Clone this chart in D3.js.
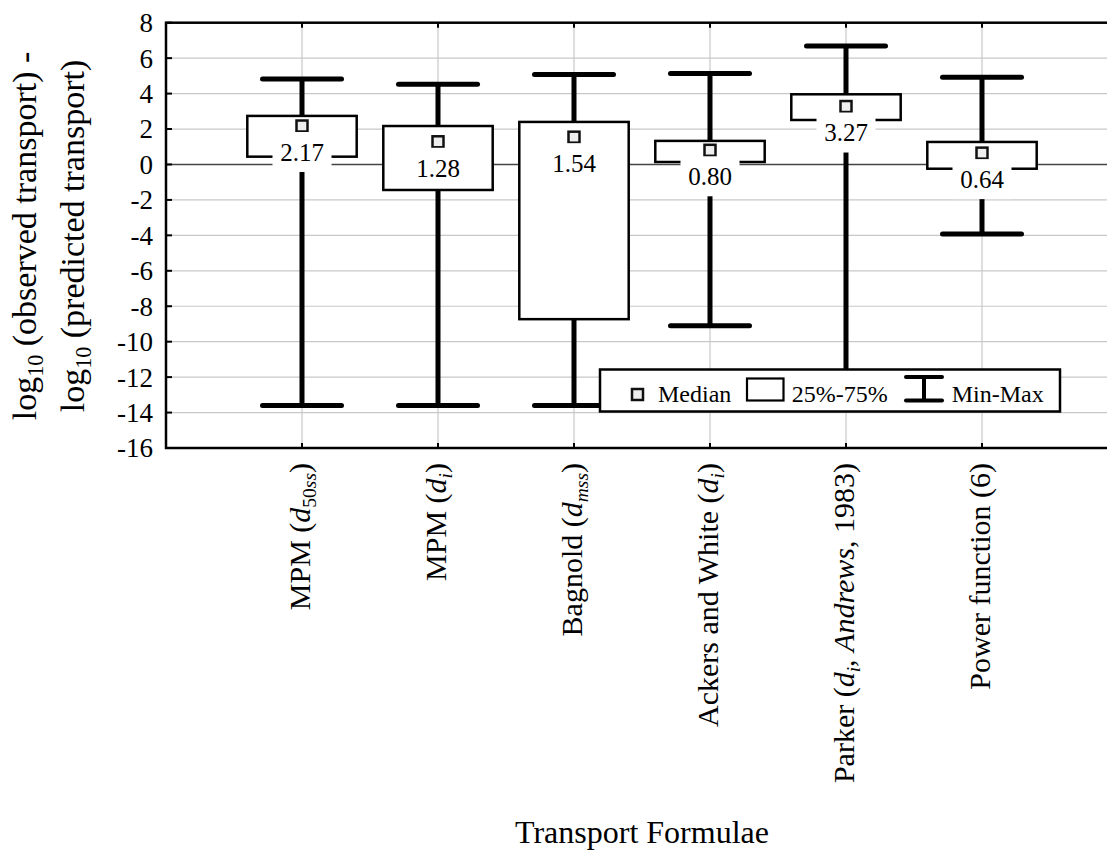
<!DOCTYPE html>
<html><head><meta charset="utf-8">
<script src="https://cdn.jsdelivr.net/npm/d3@7"></script>
</head>
<body style="margin:0">
<script>
// ---- data ----
const categories = ["MPM (d50ss)", "MPM (di)", "Bagnold (dmss)", "Ackers and White (di)", "Parker (di, Andrews, 1983)", "Power function (6)"];
const medians = [2.17, 1.28, 1.54, 0.80, 3.27, 0.64];
const q1 = [0.44, -1.44, -8.73, 0.14, 2.51, -0.24];
const q3 = [2.74, 2.17, 2.40, 1.33, 3.96, 1.27];
const mins = [-13.6, -13.6, -13.6, -9.1, -13.6, -3.92];
const maxs = [4.82, 4.52, 5.07, 5.14, 6.68, 4.92];
const yTicks = [8, 6, 4, 2, 0, -2, -4, -6, -8, -10, -12, -14, -16];
// rich label parts for category names
const categoryParts = [
  [{t:"MPM ("},{t:"d",i:1},{t:"50",sub:1},{t:"ss",sub:1,i:1},{t:")"}],
  [{t:"MPM ("},{t:"d",i:1},{t:"i",sub:1,i:1},{t:")"}],
  [{t:"Bagnold ("},{t:"d",i:1},{t:"mss",sub:1,i:1},{t:")"}],
  [{t:"Ackers and White ("},{t:"d",i:1},{t:"i",sub:1,i:1},{t:")"}],
  [{t:"Parker ("},{t:"d",i:1},{t:"i",sub:1,i:1},{t:", "},{t:"Andrews",i:1},{t:", 1983)"}],
  [{t:"Power function (6)"}]
];
const legendLabels = ["Median", "25%-75%", "Min-Max"];
const xTitle = "Transport Formulae";

const FONT = "Times New Roman";
const W = 1107, H = 851;
const L = 166, R = 1118, T = 22.7, B = 448;

const svg = d3.select("body").append("svg").attr("width", W).attr("height", H)
  .attr("font-family", FONT).style("display", "block").style("background", "#fff");

const x = d3.scalePoint().domain(categories).range([L, R]).padding(1);
const y = d3.scaleLinear().domain([-16, 8]).range([B, T]);

function txt(sel) { return sel.append("text").attr("font-family", FONT); }

function rich(textSel, parts, fs) {
  const shift = fs * 0.2;
  let cur = 0;
  parts.forEach(p => {
    const target = p.sub ? shift : 0;
    const ts = textSel.append("tspan").attr("font-family", FONT).text(p.t);
    if (target !== cur) { ts.attr("dy", target - cur); cur = target; }
    if (p.sub) ts.attr("font-size", fs * 0.65);
    if (p.i) ts.attr("font-style", "italic");
  });
}

// grid
const g = svg.append("g");
g.selectAll("line.hg").data(yTicks.filter(v => v !== 0 && v !== 8 && v !== -16)).join("line")
  .attr("x1", L).attr("x2", R).attr("y1", d => y(d)).attr("y2", d => y(d))
  .attr("stroke", "#c8c8c8").attr("stroke-width", 1.2);
g.selectAll("line.vg").data(categories).join("line")
  .attr("x1", d => x(d)).attr("x2", d => x(d)).attr("y1", T).attr("y2", B)
  .attr("stroke", "#c8c8c8").attr("stroke-width", 1.2);
g.append("line").attr("x1", L).attr("x2", R).attr("y1", y(0)).attr("y2", y(0))
  .attr("stroke", "#444").attr("stroke-width", 1.5);

// frame
svg.append("rect").attr("x", L).attr("y", T).attr("width", R - L).attr("height", B - T)
  .attr("fill", "none").attr("stroke", "#000").attr("stroke-width", 2.5);

// y axis ticks
const ya = svg.append("g");
ya.selectAll("line").data(yTicks).join("line")
  .attr("x1", L).attr("x2", L + 6).attr("y1", d => y(d)).attr("y2", d => y(d))
  .attr("stroke", "#000").attr("stroke-width", 2);
ya.selectAll("text").data(yTicks).join("text")
  .attr("font-family", FONT)
  .attr("x", 153).attr("y", d => y(d)).attr("dy", "0.35em")
  .attr("text-anchor", "end").attr("font-size", 27).text(d => String(d));

// x ticks
const xa = svg.append("g");
xa.selectAll("line.b").data(categories).join("line")
  .attr("x1", d => x(d)).attr("x2", d => x(d)).attr("y1", B).attr("y2", B - 5)
  .attr("stroke", "#000").attr("stroke-width", 2);
xa.selectAll("line.t").data(categories).join("line")
  .attr("x1", d => x(d)).attr("x2", d => x(d)).attr("y1", T).attr("y2", T + 5)
  .attr("stroke", "#000").attr("stroke-width", 2);

// category labels
const catFs = 30;
categories.forEach((c, i) => {
  const t = txt(svg)
    .attr("transform", `translate(${x(c) + 8},463) rotate(-90)`)
    .attr("text-anchor", "end").attr("font-size", catFs);
  rich(t, categoryParts[i], catFs);
});

// boxes
const idx = d3.range(categories.length);
const boxHalf = 54.7, capHalf = 39.5;
const bx = svg.append("g");
bx.selectAll("line.w").data(idx).join("line")
  .attr("x1", i => x(categories[i])).attr("x2", i => x(categories[i]))
  .attr("y1", i => y(mins[i])).attr("y2", i => y(maxs[i]))
  .attr("stroke", "#000").attr("stroke-width", 5);
bx.selectAll("line.cmax").data(idx).join("line")
  .attr("x1", i => x(categories[i]) - capHalf).attr("x2", i => x(categories[i]) + capHalf)
  .attr("y1", i => y(maxs[i])).attr("y2", i => y(maxs[i]))
  .attr("stroke", "#000").attr("stroke-width", 5).attr("stroke-linecap", "round");
bx.selectAll("line.cmin").data(idx).join("line")
  .attr("x1", i => x(categories[i]) - capHalf).attr("x2", i => x(categories[i]) + capHalf)
  .attr("y1", i => y(mins[i])).attr("y2", i => y(mins[i]))
  .attr("stroke", "#000").attr("stroke-width", 5).attr("stroke-linecap", "round");
bx.selectAll("rect.box").data(idx).join("rect")
  .attr("x", i => x(categories[i]) - boxHalf).attr("width", boxHalf * 2)
  .attr("y", i => y(q3[i])).attr("height", i => y(q1[i]) - y(q3[i]))
  .attr("fill", "#fff").attr("stroke", "#000").attr("stroke-width", 2.5);
bx.selectAll("rect.med").data(idx).join("rect")
  .attr("x", i => x(categories[i]) - 5.5).attr("y", i => y(medians[i]) - 5.5)
  .attr("width", 11).attr("height", 11)
  .attr("fill", "#eee").attr("stroke", "#111").attr("stroke-width", 2.5);
const labFs = 25;
bx.selectAll("rect.lbg").data(idx).join("rect")
  .attr("x", i => x(categories[i]) - 29.5).attr("width", 59)
  .attr("y", i => y(medians[i]) + 26 - 20).attr("height", 40)
  .attr("fill", "#fff");
bx.selectAll("text.lab").data(idx).join("text")
  .attr("font-family", FONT)
  .attr("x", i => x(categories[i])).attr("y", i => y(medians[i]) + 26).attr("dy", "0.35em")
  .attr("text-anchor", "middle").attr("font-size", labFs)
  .text(i => medians[i].toFixed(2));

// legend
const lg = svg.append("g");
lg.append("rect").attr("x", 600).attr("y", 369.5).attr("width", 460).attr("height", 42)
  .attr("fill", "#fff").attr("stroke", "#000").attr("stroke-width", 2.5);
lg.append("rect").attr("x", 632).attr("y", 389).attr("width", 11).attr("height", 11)
  .attr("fill", "#eee").attr("stroke", "#111").attr("stroke-width", 2.5);
lg.append("rect").attr("x", 747).attr("y", 378.5).attr("width", 36.5).attr("height", 22)
  .attr("fill", "#fff").attr("stroke", "#000").attr("stroke-width", 2.2);
lg.append("line").attr("x1", 906).attr("x2", 942).attr("y1", 377).attr("y2", 377)
  .attr("stroke", "#000").attr("stroke-width", 4).attr("stroke-linecap", "round");
lg.append("line").attr("x1", 906).attr("x2", 942).attr("y1", 400.5).attr("y2", 400.5)
  .attr("stroke", "#000").attr("stroke-width", 4).attr("stroke-linecap", "round");
lg.append("line").attr("x1", 924).attr("x2", 924).attr("y1", 377).attr("y2", 400.5)
  .attr("stroke", "#000").attr("stroke-width", 4);
const legX = [658, 791.7, 951.7];
lg.selectAll("text").data(legendLabels).join("text")
  .attr("font-family", FONT)
  .attr("x", (d, i) => legX[i]).attr("y", 402).attr("font-size", 24).text(d => d);

// y axis title (two lines)
const yFs = 34;
const yl1 = txt(svg).attr("transform", "translate(36,236) rotate(-90)")
  .attr("text-anchor", "middle").attr("font-size", yFs);
rich(yl1, [{t:"log"},{t:"10",sub:1},{t:" (observed transport) -"}], yFs);
const yl2 = txt(svg).attr("transform", "translate(84,236) rotate(-90)")
  .attr("text-anchor", "middle").attr("font-size", yFs);
rich(yl2, [{t:"log"},{t:"10",sub:1},{t:" (predicted transport)"}], yFs);

// x axis title
txt(svg).attr("x", (L + R) / 2).attr("y", 843).attr("text-anchor", "middle")
  .attr("font-size", 32).text(xTitle);
</script>
</body></html>
